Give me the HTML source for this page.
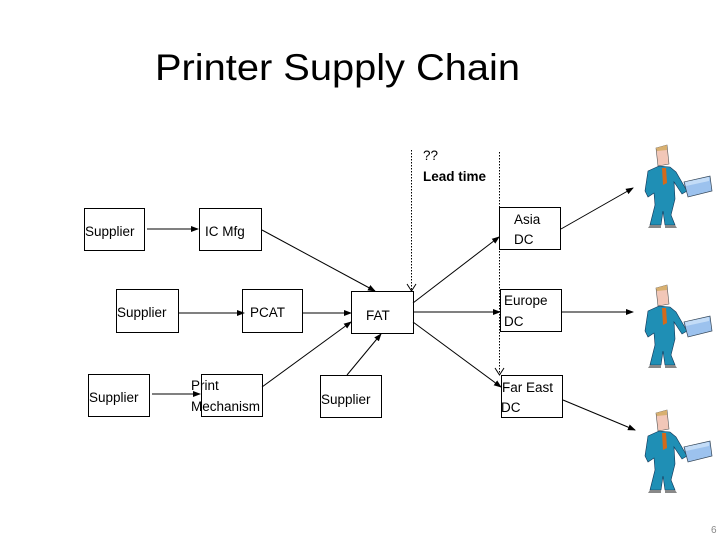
<!DOCTYPE html>
<html><head><meta charset="utf-8"><style>
body{margin:0;background:#fff;}
svg{display:block;font-family:"Liberation Sans",Calibri,sans-serif;}
</style></head><body>
<svg width="728" height="546" viewBox="0 0 728 546" xmlns="http://www.w3.org/2000/svg">
<defs>
<marker id="a" markerWidth="8" markerHeight="8" refX="7" refY="4" orient="auto" markerUnits="userSpaceOnUse"><path d="M0,1 L8,4 L0,7 z" fill="#000"/></marker>
<g id="p">
<path d="M11,3 L22,0 L24,19 L13,21 Z" fill="#f2c7b8" stroke="#555" stroke-width="0.6"/>
<path d="M11,3 L22,0 L22,5 L12,6 Z" fill="#d8b070"/>
<path d="M3,26 L14,21 L25,22 L31,27 L42,46 L37,49 L29,37 L30,54 L26,70 L30,80 L20,80 L18,66 L16,80 L5,80 L10,60 L9,48 L3,52 L0,46 Z" fill="#1f8fb5" stroke="#135" stroke-width="0.6"/>
<path d="M17,23 L21,23 L22,38 L18,40 Z" fill="#d46a1a"/>
<path d="M39,37 L65,31 L67,46 L43,52 Z" fill="#9cc2ee" stroke="#345" stroke-width="0.7"/>
<path d="M40,37 L64,32 L64,36 L41,41 Z" fill="#c3dcf7"/>
<path d="M5,80 L16,80 L16,83 L3,83 Z M20,80 L30,80 L32,83 L20,83 Z" fill="#888"/>
</g>
</defs>
<text x="155" y="80" font-size="37" fill="#000" textLength="365" lengthAdjust="spacingAndGlyphs">Printer Supply Chain</text>
<g fill="#fff" stroke="#000" stroke-width="1">
<rect x="84.5" y="208.5" width="60" height="42"/>
<rect x="199.5" y="208.5" width="62" height="42"/>
<rect x="116.5" y="289.5" width="62" height="43"/>
<rect x="242.5" y="289.5" width="60" height="43"/>
<rect x="351.5" y="291.5" width="62" height="42"/>
<rect x="88.5" y="374.5" width="61" height="42"/>
<rect x="201.5" y="374.5" width="61" height="42"/>
<rect x="320.5" y="375.5" width="61" height="42"/>
<rect x="499.5" y="207.5" width="61" height="42"/>
<rect x="500.5" y="289.5" width="61" height="42"/>
<rect x="501.5" y="375.5" width="61" height="42"/>
</g>
<g font-size="13.5" fill="#000">
<text x="85" y="236">Supplier</text>
<text x="205" y="236">IC Mfg</text>
<text x="117" y="317">Supplier</text>
<text x="250" y="317">PCAT</text>
<text x="366" y="320">FAT</text>
<text x="89" y="402">Supplier</text>
<text x="191" y="390">Print</text>
<text x="191" y="411">Mechanism</text>
<text x="321" y="404">Supplier</text>
<text x="514" y="224">Asia</text>
<text x="514" y="244">DC</text>
<text x="504" y="305">Europe</text>
<text x="504" y="326">DC</text>
<text x="502" y="392">Far East</text>
<text x="501" y="412">DC</text>
<text x="423" y="160">??</text>
<text x="423" y="181" font-weight="bold">Lead time</text>
<text x="711" y="533" font-size="10" fill="#888">6</text>
</g>
<g stroke="#000" stroke-width="1" fill="none" marker-end="url(#a)">
<line x1="147" y1="229" x2="198" y2="229"/>
<line x1="262" y1="230" x2="375" y2="291"/>
<line x1="178" y1="313" x2="244" y2="313"/>
<line x1="302" y1="313" x2="351" y2="313"/>
<line x1="262" y1="387" x2="351" y2="322"/>
<line x1="347" y1="375" x2="381" y2="334"/>
<line x1="152" y1="394" x2="200" y2="394"/>
<line x1="413" y1="303" x2="499" y2="237"/>
<line x1="413" y1="312" x2="500" y2="312"/>
<line x1="413" y1="322" x2="501" y2="387"/>
<line x1="561" y1="229" x2="633" y2="188"/>
<line x1="562" y1="312" x2="633" y2="312"/>
<line x1="563" y1="400" x2="635" y2="430"/>
</g>
<g stroke="#000" stroke-width="1" stroke-dasharray="1.5,1.5" fill="none">
<line x1="411.5" y1="150" x2="411.5" y2="290"/>
<line x1="499.5" y1="152" x2="499.5" y2="374"/>
</g>
<path d="M407,284 L411.5,291 L416,284" fill="none" stroke="#000"/>
<path d="M495,368 L499.5,375 L504,368" fill="none" stroke="#000"/>
<use href="#p" x="645" y="145"/>
<use href="#p" x="645" y="285"/>
<use href="#p" x="645" y="410"/>
</svg>
</body></html>
